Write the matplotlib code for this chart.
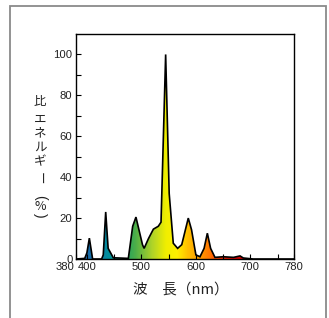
import numpy as np
import matplotlib
matplotlib.use('Agg')
import matplotlib.pyplot as plt
import matplotlib.transforms as mtrans
from matplotlib.colors import LinearSegmentedColormap, Normalize
from matplotlib.patches import Rectangle

# ---- data ----
wavelength = [380, 396, 400, 404.5, 410.5, 427, 430, 434.5, 439, 448.5, 476, 484, 490,
              502, 505, 513, 522, 531, 536, 544.5, 551, 558.5, 566.5, 574, 586, 592,
              600, 607.5, 615, 621, 627, 635, 650, 669, 681, 687, 705, 780]
energy = [0, 0.3, 3, 10.2, 0, 0, 2, 23, 5.2, 0.6, 0.3, 16, 20.5,
          7, 5.2, 10, 14.6, 16, 18, 100, 32, 7.7, 5.2, 7, 20, 14.3,
          2, 1.1, 5.2, 12.6, 5.2, 0.8, 1.1, 0.8, 1.5, 0.5, 0, 0]

x_ticks = [380, 400, 450, 500, 550, 600, 650, 700, 750, 780]
x_tick_labels = ['380', '400', '', '500', '', '600', '', '700', '', '780']
y_ticks = [0, 10, 20, 30, 40, 50, 60, 70, 80, 90, 100]
y_tick_labels = ['0', '', '20', '', '40', '', '60', '', '80', '', '100']
y_label_chars = ['比', 'エ', 'ネ', 'ル', 'ギ', 'ー', '(', '%', ')']
x_label = '波　長（nm）'

# spectral colour stops (wavelength, colour)
spec_wl = [380, 400, 420, 440, 470, 490, 520, 545, 565, 585, 605, 625, 645, 670, 780]
spec_col = ['#203080', '#1868a8', '#107ca8', '#00909c', '#20a060', '#50b048', '#b0d428',
            '#f0ee00', '#fff000', '#ffc000', '#ffa000', '#ff7800', '#ff3000', '#e00000', '#b00000']

CJK = ['Noto Sans CJK JP', 'DejaVu Sans']
W, H = 329, 318
fig = plt.figure(figsize=(W / 100, H / 100), dpi=100)
fig.patch.set_facecolor('white')

# outer frame
fig.add_artist(Rectangle((9.5 / W, -0.1), (326 - 9.5) / W, 1.1 - 6.5 / H,
                         transform=fig.transFigure, fill=False,
                         edgecolor='#8a8a8a', linewidth=1.3, clip_on=False))

ax = fig.add_axes([76 / W, 1 - 259 / H, 218 / W, 225 / H])
ax.set_xlim(380, 780)
ax.set_ylim(0, 110)

span = spec_wl[-1] - spec_wl[0]
cmap = LinearSegmentedColormap.from_list(
    'spec', [((w - spec_wl[0]) / span, c) for w, c in zip(spec_wl, spec_col)])
grad = np.linspace(380, 780, 800).reshape(1, -1)
im = ax.imshow(grad, cmap=cmap, norm=Normalize(380, 780), extent=[380, 780, 0, 110],
               aspect='auto', origin='lower', zorder=1, interpolation='bilinear')
poly = ax.fill(list(wavelength) + [780, 380], list(energy) + [0, 0],
               facecolor='none', edgecolor='none')[0]
im.set_clip_path(poly)
ax.plot(wavelength, energy, color='black', linewidth=1.2, zorder=3, solid_joinstyle='miter')

ax.set_xticks(x_ticks)
ax.set_xticklabels(x_tick_labels, fontfamily='Liberation Sans', fontsize=8.1, color='#222222')
ax.set_yticks(y_ticks)
ax.set_yticklabels(y_tick_labels, fontfamily='Liberation Sans', fontsize=8.1, color='#222222')
ax.tick_params(direction='in', length=3.5, width=0.8, pad=2.5)
ax.tick_params(axis='x', pad=2)
lab0 = ax.get_xticklabels()[0]
lab0.set_ha('right')
lab0.set_transform(lab0.get_transform() + mtrans.ScaledTranslation(-1.5 / 100, 0, fig.dpi_scale_trans))
for s in ax.spines.values():
    s.set_linewidth(1.0)

# y label, vertical writing
ys = [102, 119, 133, 147, 162, 178, 197, 206, 215]
for ch, yy in zip(y_label_chars, ys):
    if ch in ('(', ')'):
        fig.text(40 / W, 1 - yy / H, ch, fontfamily='Liberation Sans', fontsize=10,
                 color='#222222', ha='center', va='center', rotation=-90)
    elif ch == 'ー':
        fig.text(40 / W, 1 - yy / H, ch, fontfamily=CJK, fontsize=9, color='#222222',
                 ha='center', va='center', rotation=-90)
    else:
        fig.text(40 / W, 1 - yy / H, ch, fontfamily=CJK, fontsize=9, color='#222222',
                 ha='center', va='center')

fig.text(181 / W, 1 - 290 / H, x_label, fontfamily=CJK, fontsize=10.5, color='#222222',
         ha='center', va='center')

fig.savefig('out.png', dpi=100)
